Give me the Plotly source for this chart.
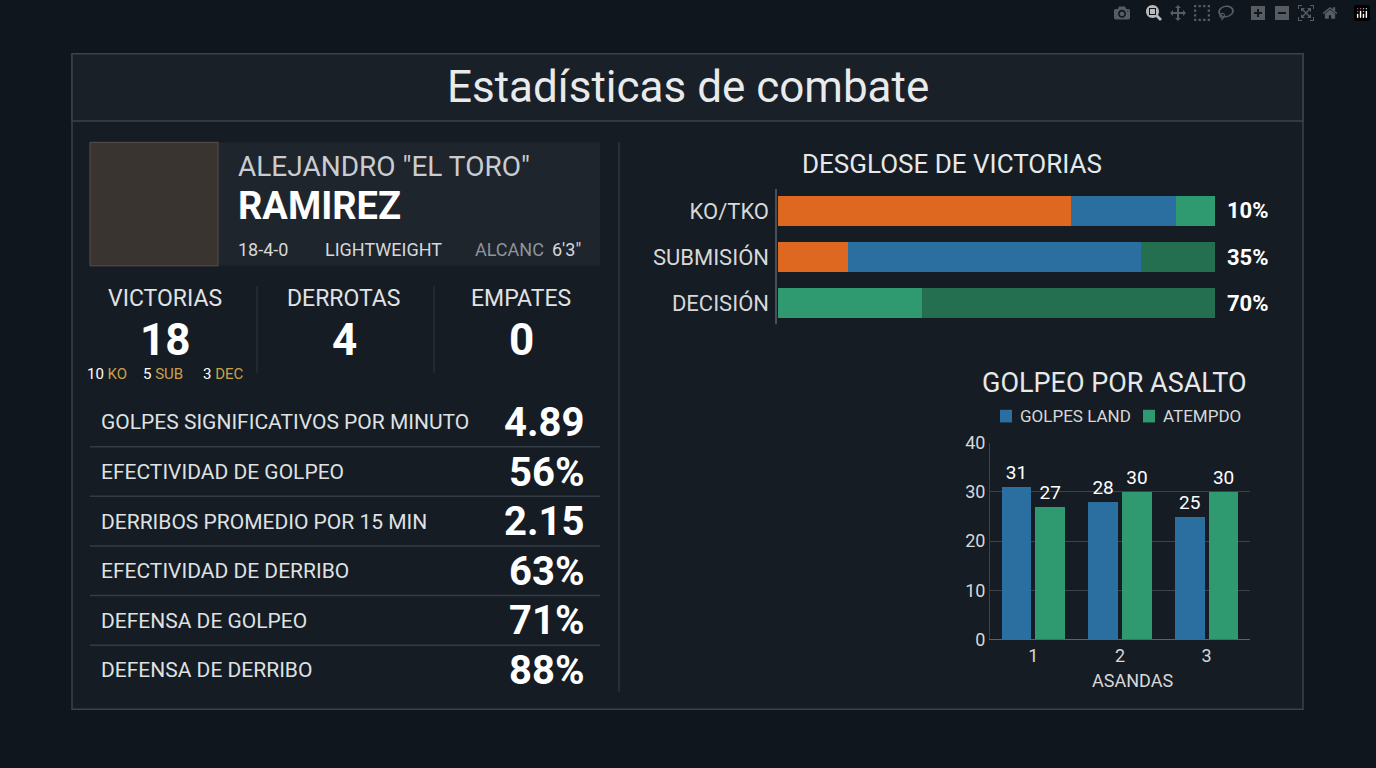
import plotly.graph_objects as go

W, H = 1376, 768
FONT = "Roboto, sans-serif"

# ---- data ----
title = "Estadísticas de combate"
fighter_first = 'ALEJANDRO "EL TORO"'
fighter_last = "RAMIREZ"
record = "18-4-0"
division = "LIGHTWEIGHT"
reach_label, reach_value = "ALCANC", "6'3\""
summary_labels = ["VICTORIAS", "DERROTAS", "EMPATES"]
summary_values = [18, 4, 0]
win_methods = [("10", "KO"), ("5", "SUB"), ("3", "DEC")]
stat_labels = ["GOLPES SIGNIFICATIVOS POR MINUTO", "EFECTIVIDAD DE GOLPEO",
               "DERRIBOS PROMEDIO POR 15 MIN", "EFECTIVIDAD DE DERRIBO",
               "DEFENSA DE GOLPEO", "DEFENSA DE DERRIBO"]
stat_values = ["4.89", "56%", "2.15", "63%", "71%", "88%"]

breakdown_cats = ["KO/TKO", "SUBMISIÓN", "DECISIÓN"]
breakdown_labels = ["10%", "35%", "70%"]
seg_orange = [67, 16, 0]
seg_blue = [24, 67, 0]
seg_green = [9, 0, 33]
seg_dkgreen = [0, 17, 67]

rounds = ["1", "2", "3"]
golpes_land = [31, 28, 25]
atempdo = [27, 30, 30]

ORANGE, BLUE, GREEN, DKGREEN = "#df6820", "#2a6f9f", "#2f9a6f", "#236f50"

def px(x): return x / W
def py(y): return 1 - y / H

fig = go.Figure()
shapes, ann = [], []

def rect(x0, y0, x1, y1, fill, line=None, lw=1):
    shapes.append(dict(type="rect", xref="paper", yref="paper", x0=px(x0), x1=px(x1),
                       y0=py(y1), y1=py(y0), fillcolor=fill,
                       line=dict(color=line or "rgba(0,0,0,0)", width=lw), layer="below"))

def hline(x0, x1, y, color="#2e3640", w=1):
    shapes.append(dict(type="line", xref="paper", yref="paper", x0=px(x0), x1=px(x1),
                       y0=py(y), y1=py(y), line=dict(color=color, width=w)))

def vline(x, y0, y1, color="#2e3640", w=1):
    shapes.append(dict(type="line", xref="paper", yref="paper", x0=px(x), x1=px(x),
                       y0=py(y0), y1=py(y1), line=dict(color=color, width=w)))

def text(x, y, s, size, color="#e6e8ea", anchor="center", bold=False, family=FONT):
    ann.append(dict(xref="paper", yref="paper", x=px(x), y=py(y), text=f"<b>{s}</b>" if bold else s,
                    showarrow=False, xanchor=anchor, yanchor="middle",
                    font=dict(size=size, color=color, family=family)))

# panels
rect(72, 44, 1303, 718, "#161c23", "#3a424c", 1.5)
rect(72, 44, 1303, 113, "#1a2028", "#3a424c", 1.5)
text(688, 78, title, 44, "#e8eaec")

# fighter card
rect(90, 135, 600, 262, "#1f252d")
rect(90, 135, 218, 262, "#3a3430", "#55504a")
text(236, 160, fighter_first, 28, "#c9ccd0", "left")
text(236, 200, fighter_last, 38, "#ffffff", "left", bold=True)
text(236, 245, record, 18, "#d6d8da", "left")
text(323, 245, division, 18, "#d6d8da", "left")
text(473, 245, reach_label, 18, "#8e949a", "left")
text(550, 245, reach_value, 18, "#d6d8da", "left")

cx = [165, 344, 521]
for c, l, v in zip(cx, summary_labels, summary_values):
    text(c, 296, l, 23, "#e0e2e4")
    text(c, 338, str(v), 44, "#ffffff", bold=True)
vline(257, 283, 372); vline(434, 283, 372)
wx = [85, 141, 201]
for x, (n, m) in zip(wx, win_methods):
    ann.append(dict(xref="paper", yref="paper", x=px(x), y=py(373), showarrow=False, xanchor="left",
                    yanchor="middle", text=f"<span style='color:#fff'>{n}</span> <span style='color:#c9a24a'>{m}</span>",
                    font=dict(size=15, family=FONT)))

for i, (l, v) in enumerate(zip(stat_labels, stat_values)):
    y = 423 + i * 51
    text(99, y, l, 21, "#dfe1e3", "left")
    text(586, y, v, 40, "#ffffff", "right", bold=True)
    if i < 5:
        hline(90, 600, y + 25, "#333b44", 1.5)

vline(619, 135, 700, "#2e3640", 1.5)

# breakdown
text(952, 157, "DESGLOSE DE VICTORIAS", 26, "#e6e8ea")
for name, vals, col in [("KO", seg_orange, ORANGE), ("SUB", seg_blue, BLUE),
                        ("DEC1", seg_green, GREEN), ("DEC2", seg_dkgreen, DKGREEN)]:
    fig.add_trace(go.Bar(y=breakdown_cats, x=vals, orientation="h", marker=dict(color=col, line_width=0),
                         xaxis="x", yaxis="y", showlegend=False, hoverinfo="skip", width=0.64))
for yy, l in zip([205, 253, 301], breakdown_labels):
    text(1225, yy, l, 22, "#ffffff", "left", bold=True)
vline(776, 183, 322, "#5a626c", 1.5)

# golpeo por asalto
text(1114, 382, "GOLPEO POR ASALTO", 27, "#e6e8ea")
rect(1000, 410, 1012, 423, BLUE)
text(1018, 416, "GOLPES LAND", 17, "#d6d8da", "left")
rect(1143, 410, 1155, 423, GREEN)
text(1161, 416, "ATEMPDO", 17, "#d6d8da", "left")
fig.add_trace(go.Bar(x=rounds, y=golpes_land, marker=dict(color=BLUE, line_width=0), xaxis="x2", yaxis="y2",
                     text=golpes_land, textposition="outside", textfont=dict(size=19, color="#fff", family=FONT),
                     showlegend=False, hoverinfo="skip", cliponaxis=False, offsetgroup="a"))
fig.add_trace(go.Bar(x=rounds, y=atempdo, marker=dict(color=GREEN, line_width=0), xaxis="x2", yaxis="y2",
                     text=atempdo, textposition="outside", textfont=dict(size=19, color="#fff", family=FONT),
                     showlegend=False, hoverinfo="skip", cliponaxis=False, offsetgroup="b"))
text(1132, 688, "ASANDAS", 18, "#d6d8da")

fig.update_layout(
    width=W, height=H, margin=dict(l=0, r=0, t=0, b=0),
    paper_bgcolor="#10161d", plot_bgcolor="rgba(0,0,0,0)",
    barmode="stack", shapes=shapes, annotations=ann,
    xaxis=dict(domain=[px(778), px(1215)], range=[0, 100], visible=False, fixedrange=True),
    yaxis=dict(domain=[py(324), py(182)], categoryorder="array", categoryarray=breakdown_cats[::-1],
               showgrid=False, zeroline=False, ticks="", showline=False,
               tickfont=dict(size=22, color="#d6d8da", family=FONT), ticklabelstandoff=8),
    xaxis2=dict(domain=[px(990), px(1250)], anchor="y2", showgrid=False, zeroline=False,
                showline=True, linecolor="#5a626c", tickfont=dict(size=18, color="#d6d8da", family=FONT)),
    yaxis2=dict(domain=[py(646), py(444)], anchor="x2", range=[0, 40], dtick=10,
                gridcolor="#3a424c", zeroline=False, showline=True, linecolor="#3a424c",
                tickfont=dict(size=18, color="#d6d8da", family=FONT)),
    bargap=0.22, bargroupgap=0.12,
)
fig.write_html("out.html", post_script="document.body.style.margin='0';document.body.style.background='#10161d';")
